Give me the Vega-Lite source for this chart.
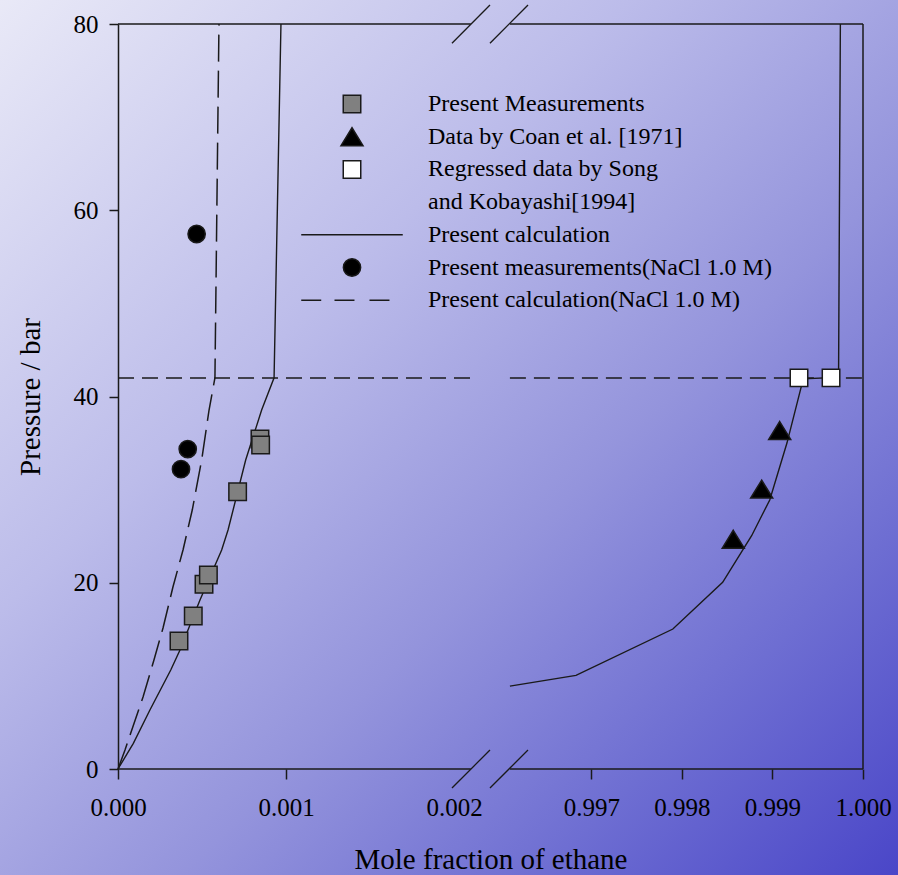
{
  "$schema": "https://vega.github.io/schema/vega-lite/v6.json",
  "width": 898,
  "height": 875,
  "padding": 0,
  "autosize": {"type": "none"},
  "background": "#a6a6e2",
  "config": {
    "font": "Liberation Serif",
    "view": {
      "stroke": null,
      "fill": {
        "gradient": "linear", "x1": 0, "y1": 0, "x2": 1, "y2": 1,
        "stops": [
          {"offset": 0, "color": "#e9e9f7"},
          {"offset": 0.35, "color": "#bcbcea"},
          {"offset": 0.6, "color": "#9494dc"},
          {"offset": 0.8, "color": "#6e6ed2"},
          {"offset": 1, "color": "#4a46c8"}
        ]
      }
    }
  },
  "datasets": {
    "frame": [
      {"x": 0, "x2": 0.0021, "y": 0, "y2": 0},
      {"x": 0.9961, "x2": 1, "y": 0, "y2": 0},
      {"x": 0, "x2": 0.0021, "y": 80, "y2": 80},
      {"x": 0.9961, "x2": 1, "y": 80, "y2": 80},
      {"x": 1, "x2": 1, "y": 0, "y2": 80}
    ],
    "breaks": [
      {"x": 0.001988, "y": -2.04, "x2": 0.4898, "y2": 2.04},
      {"x": 0.4898, "y": -2.04, "x2": 0.9963, "y2": 2.04},
      {"x": 0.001988, "y": 77.93, "x2": 0.4898, "y2": 82.04},
      {"x": 0.4898, "y": 77.93, "x2": 0.9963, "y2": 82.04}
    ],
    "threephase": [
      {"x": 0, "x2": 0.0021, "y": 42},
      {"x": 0.9961, "x2": 1, "y": 42}
    ],
    "calc": [
      {"curve": "left", "i": 0, "x": 0, "y": 0},
      {"curve": "left", "i": 1, "x": 0.0000913, "y": 2.76},
      {"curve": "left", "i": 2, "x": 0.000190, "y": 6.34},
      {"curve": "left", "i": 3, "x": 0.000314, "y": 10.63},
      {"curve": "left", "i": 4, "x": 0.000369, "y": 12.78},
      {"curve": "left", "i": 5, "x": 0.000488, "y": 18.15},
      {"curve": "left", "i": 6, "x": 0.000617, "y": 23.52},
      {"curve": "left", "i": 7, "x": 0.000655, "y": 25.66},
      {"curve": "left", "i": 8, "x": 0.000760, "y": 33.18},
      {"curve": "left", "i": 9, "x": 0.000855, "y": 38.55},
      {"curve": "left", "i": 10, "x": 0.000929, "y": 42.0},
      {"curve": "left", "i": 11, "x": 0.000970, "y": 80},
      {"curve": "right", "i": 0, "x": 0.99610, "y": 8.9},
      {"curve": "right", "i": 1, "x": 0.99683, "y": 10.06},
      {"curve": "right", "i": 2, "x": 0.99790, "y": 15.03},
      {"curve": "right", "i": 3, "x": 0.99845, "y": 20.05},
      {"curve": "right", "i": 4, "x": 0.99877, "y": 25.05},
      {"curve": "right", "i": 5, "x": 0.99897, "y": 28.89},
      {"curve": "right", "i": 6, "x": 0.99916, "y": 35.0},
      {"curve": "right", "i": 7, "x": 0.99934, "y": 41.9},
      {"curve": "right", "i": 8, "x": 0.99973, "y": 42.06},
      {"curve": "right", "i": 9, "x": 0.99975, "y": 80}
    ],
    "calcNaCl": [
      {"i": 0, "x": 0, "y": 0},
      {"i": 1, "x": 0.0000417, "y": 2.04},
      {"i": 2, "x": 0.000149, "y": 7.73},
      {"i": 3, "x": 0.000214, "y": 11.70},
      {"i": 4, "x": 0.000268, "y": 15.14},
      {"i": 5, "x": 0.000327, "y": 19.54},
      {"i": 6, "x": 0.000387, "y": 23.52},
      {"i": 7, "x": 0.000442, "y": 27.81},
      {"i": 8, "x": 0.000498, "y": 33.18},
      {"i": 9, "x": 0.000542, "y": 38.55},
      {"i": 10, "x": 0.000577, "y": 42.0},
      {"i": 11, "x": 0.000601, "y": 80}
    ],
    "points": [
      {"series": "Present Measurements", "x": 0.000363, "y": 13.74},
      {"series": "Present Measurements", "x": 0.000448, "y": 16.43},
      {"series": "Present Measurements", "x": 0.000512, "y": 19.83},
      {"series": "Present Measurements", "x": 0.000538, "y": 20.83},
      {"series": "Present Measurements", "x": 0.000712, "y": 29.76},
      {"series": "Present Measurements", "x": 0.000845, "y": 35.44},
      {"series": "Present Measurements", "x": 0.000849, "y": 34.8},
      {"series": "Data by Coan et al. [1971]", "x": 0.998567, "y": 24.67},
      {"series": "Data by Coan et al. [1971]", "x": 0.998881, "y": 30.05},
      {"series": "Data by Coan et al. [1971]", "x": 0.999080, "y": 36.35},
      {"series": "Regressed data by Song", "x": 0.999293, "y": 42},
      {"series": "Regressed data by Song", "x": 0.999647, "y": 42},
      {"series": "Present measurements(NaCl 1.0 M)", "x": 0.000468, "y": 57.45},
      {"series": "Present measurements(NaCl 1.0 M)", "x": 0.000415, "y": 34.36},
      {"series": "Present measurements(NaCl 1.0 M)", "x": 0.000375, "y": 32.2}
    ]
  },
  "encoding": {
    "x": {
      "field": "x", "type": "quantitative",
      "scale": {"domain": [0, 0.0021, 0.9961, 1], "range": [118, 470.8, 509.9, 863], "nice": false, "zero": false},
      "axis": {
        "values": [0, 0.001, 0.002, 0.997, 0.998, 0.999, 1],
        "format": ".3f",
        "offset": -106,
        "domain": false,
        "grid": false,
        "tickSize": 10,
        "tickWidth": 1.5,
        "tickColor": "#1a1a1a",
        "tickOpacity": {"condition": {"test": "abs(datum.value - 0.002) < 0.00001", "value": 0}, "value": 1},
        "labelFont": "Liberation Serif",
        "labelFontSize": 25,
        "labelColor": "black",
        "labelPadding": 16,
        "labelFlush": false,
        "labelOverlap": false,
        "title": "Mole fraction of ethane",
        "titleFont": "Liberation Serif",
        "titleFontSize": 29,
        "titleFontWeight": "normal",
        "titleColor": "black",
        "titlePadding": 25
      }
    },
    "y": {
      "field": "y", "type": "quantitative",
      "scale": {"domain": [0, 80], "range": [769, 24], "nice": false, "zero": false},
      "axis": {
        "values": [0, 20, 40, 60, 80],
        "offset": -118,
        "domain": true,
        "domainColor": "#1a1a1a",
        "domainWidth": 1.5,
        "grid": false,
        "tickSize": 9,
        "tickWidth": 1.5,
        "tickColor": "#1a1a1a",
        "labelFont": "Liberation Serif",
        "labelFontSize": 25,
        "labelColor": "black",
        "labelPadding": 11,
        "title": "Pressure / bar",
        "titleFont": "Liberation Serif",
        "titleFontSize": 29,
        "titleFontWeight": "normal",
        "titleColor": "black",
        "titlePadding": 28
      }
    }
  },
  "layer": [
    {
      "data": {"name": "frame"},
      "mark": {"type": "rule", "color": "#1a1a1a", "strokeWidth": 1.5},
      "encoding": {"x2": {"field": "x2"}, "y2": {"field": "y2"}}
    },
    {
      "data": {"name": "breaks"},
      "mark": {"type": "rule", "color": "#1a1a1a", "strokeWidth": 1.3},
      "encoding": {"x2": {"field": "x2"}, "y2": {"field": "y2"}}
    },
    {
      "data": {"name": "threephase"},
      "mark": {"type": "rule", "color": "#1a1a1a", "strokeWidth": 1.5, "strokeDash": [16, 8]},
      "encoding": {"x2": {"field": "x2"}}
    },
    {
      "data": {"name": "calc"},
      "mark": {"type": "line", "color": "#1a1a1a", "strokeWidth": 1.4},
      "encoding": {"detail": {"field": "curve", "type": "nominal"}, "order": {"field": "i", "type": "quantitative"}}
    },
    {
      "data": {"name": "calcNaCl"},
      "mark": {"type": "line", "color": "#1a1a1a", "strokeWidth": 1.5, "strokeDash": [27, 9]},
      "encoding": {"order": {"field": "i", "type": "quantitative"}}
    },
    {
      "data": {"name": "points"},
      "mark": {"type": "point", "filled": true, "strokeWidth": 1.5, "size": 11664, "opacity": 1},
      "encoding": {
        "shape": {
          "field": "series", "type": "nominal",
          "scale": {
            "domain": ["Present Measurements", "Data by Coan et al. [1971]", "Regressed data by Song", "and Kobayashi[1994]", "Present calculation", "Present measurements(NaCl 1.0 M)", "Present calculation(NaCl 1.0 M)"],
            "range": [
              "M-0.162,-0.162H0.162V0.162H-0.162Z",
              "M0,-0.166L0.204,0.166L-0.204,0.166Z",
              "M-0.162,-0.162H0.162V0.162H-0.162Z",
              "M0,0L0,0",
              "M-0.94,0H0.94",
              "M-0.16,0A0.16,0.16,0,1,1,0.16,0A0.16,0.16,0,1,1,-0.16,0Z",
              "M-0.94,0H-0.57M-0.324,0H0.046M0.324,0H0.694"
            ]
          },
          "legend": {
            "orient": "none", "legendX": 297, "legendY": 89, "title": null,
            "symbolSize": 11664, "clipHeight": 30, "rowPadding": 2.7,
            "labelFont": "Liberation Serif", "labelFontSize": 24, "labelColor": "black",
            "labelLimit": 600, "labelOffset": 21, "symbolStrokeWidth": 1.5,
            "padding": 0, "symbolOffset": 0
          }
        },
        "fill": {
          "field": "series", "type": "nominal",
          "scale": {
            "domain": ["Present Measurements", "Data by Coan et al. [1971]", "Regressed data by Song", "and Kobayashi[1994]", "Present calculation", "Present measurements(NaCl 1.0 M)", "Present calculation(NaCl 1.0 M)"],
            "range": ["#808080", "#000000", "#ffffff", "transparent", "transparent", "#000000", "transparent"]
          },
          "legend": {
            "orient": "none", "legendX": 297, "legendY": 89, "title": null,
            "symbolSize": 11664, "clipHeight": 30, "rowPadding": 2.7,
            "labelFont": "Liberation Serif", "labelFontSize": 24, "labelColor": "black",
            "labelLimit": 600, "labelOffset": 21, "symbolStrokeWidth": 1.5,
            "padding": 0, "symbolOffset": 0
          }
        },
        "stroke": {
          "field": "series", "type": "nominal",
          "scale": {
            "domain": ["Present Measurements", "Data by Coan et al. [1971]", "Regressed data by Song", "and Kobayashi[1994]", "Present calculation", "Present measurements(NaCl 1.0 M)", "Present calculation(NaCl 1.0 M)"],
            "range": ["#1a1a1a", "#1a1a1a", "#1a1a1a", "#1a1a1a", "#1a1a1a", "#1a1a1a", "#1a1a1a"]
          },
          "legend": {
            "orient": "none", "legendX": 297, "legendY": 89, "title": null,
            "symbolSize": 11664, "clipHeight": 30, "rowPadding": 2.7,
            "labelFont": "Liberation Serif", "labelFontSize": 24, "labelColor": "black",
            "labelLimit": 600, "labelOffset": 21, "symbolStrokeWidth": 1.5,
            "padding": 0, "symbolOffset": 0
          }
        }
      }
    }
  ]
}
